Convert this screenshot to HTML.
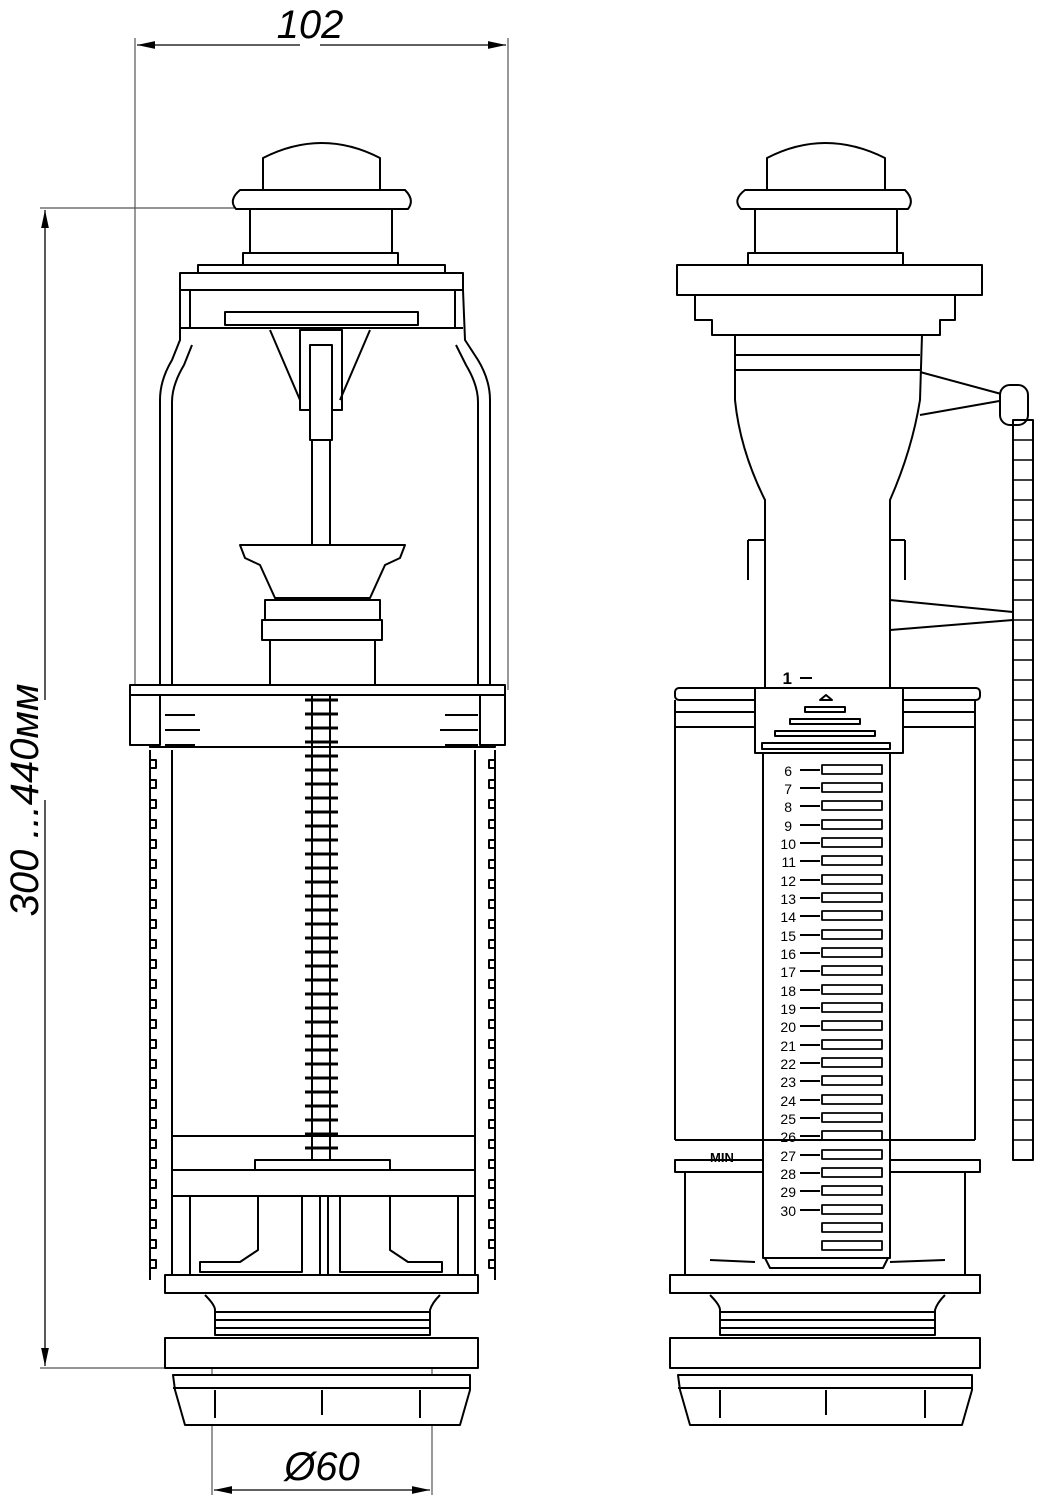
<!DOCTYPE html>
<html><head><meta charset="utf-8"><style>
html,body{margin:0;padding:0;background:#fff}
svg{display:block}
text{font-family:"Liberation Sans",sans-serif;fill:#000}
</style></head><body>
<svg width="1054" height="1500" viewBox="0 0 1054 1500" xmlns="http://www.w3.org/2000/svg">
<defs>
<marker id="ar" markerWidth="14" markerHeight="8" refX="14" refY="4" orient="auto"><path d="M0,1 L14,4 L0,7 Z" fill="#000"/></marker>
</defs>
<g stroke="#555" stroke-width="1.2" fill="none">
<line x1="135" y1="38" x2="135" y2="690"/>
<line x1="508" y1="38" x2="508" y2="690"/>
<line x1="40" y1="208" x2="235" y2="208"/>
<line x1="40" y1="1368" x2="165" y2="1368"/>
<line x1="212" y1="1340" x2="212" y2="1495"/>
<line x1="432" y1="1340" x2="432" y2="1495"/>
</g>
<g stroke="#000" stroke-width="1.3">
<line x1="300" y1="45" x2="137" y2="45" marker-end="url(#ar)"/>
<line x1="320" y1="45" x2="506" y2="45" marker-end="url(#ar)"/>
<line x1="45" y1="700" x2="45" y2="210" marker-end="url(#ar)"/>
<line x1="45" y1="800" x2="45" y2="1366" marker-end="url(#ar)"/>
<line x1="320" y1="1490" x2="214" y2="1490" marker-end="url(#ar)"/>
<line x1="320" y1="1490" x2="430" y2="1490" marker-end="url(#ar)"/>
</g>
<text x="310" y="38" font-size="40" font-style="italic" text-anchor="middle">102</text>
<text x="0" y="0" font-size="40" font-style="italic" text-anchor="middle" transform="translate(38,800) rotate(-90)">300 ...440мм</text>
<text x="322" y="1480" font-size="40" font-style="italic" text-anchor="middle">Ø60</text>

<g stroke="#000" stroke-width="2" fill="#fff" stroke-linejoin="round">
<path d="M263,190 L263,158 Q322,128 380,158 L380,190 Z"/>
<path d="M240,190 L405,190 Q415,200 408,209 L236,209 Q228,200 240,190 Z"/>
<rect x="250" y="209" width="142" height="44"/>
<rect x="243" y="253" width="155" height="12"/>
<rect x="198" y="265" width="247" height="8"/>
<rect x="180" y="273" width="283" height="17"/>
<rect x="190" y="290" width="265" height="38" fill="none"/>
<rect x="225" y="312" width="193" height="13"/>
<line x1="180" y1="328" x2="463" y2="328"/>
<path d="M160,690 L160,400 Q160,380 172,360 L180,340 L180,290" fill="none"/>
<path d="M172,690 L172,402 Q172,385 184,365 L192,345" fill="none"/>
<path d="M490,690 L490,400 Q490,380 478,360 L465,340 L463,290" fill="none"/>
<path d="M478,690 L478,402 Q478,385 466,365 L456,345" fill="none"/>
<path d="M270,330 L300,400 M370,330 L340,400" fill="none"/>
<rect x="300" y="330" width="42" height="80" fill="none"/>
<rect x="310" y="345" width="22" height="95"/>
<rect x="312" y="440" width="18" height="720"/>
<g stroke-width="3">
<path d="M305,560 H338 M305,574 H338 M305,588 H338 M305,602 H338 M305,616 H338 M305,630 H338 M305,644 H338 M305,658 H338 M305,672 H338 M305,686 H338 M305,700 H338 M305,714 H338 M305,728 H338 M305,742 H338 M305,756 H338 M305,770 H338 M305,784 H338 M305,798 H338 M305,812 H338 M305,826 H338 M305,840 H338 M305,854 H338 M305,868 H338 M305,882 H338 M305,896 H338 M305,910 H338 M305,924 H338 M305,938 H338 M305,952 H338 M305,966 H338 M305,980 H338 M305,994 H338 M305,1008 H338 M305,1022 H338 M305,1036 H338 M305,1050 H338 M305,1064 H338 M305,1078 H338 M305,1092 H338 M305,1106 H338 M305,1120 H338 M305,1134 H338 M305,1148 H338"/>
</g>
<path d="M240,545 L405,545 L400,558 L385,565 L370,598 L275,598 L260,565 L245,558 Z"/>
<rect x="265" y="600" width="115" height="20"/>
<rect x="262" y="620" width="120" height="20"/>
<rect x="270" y="640" width="105" height="45"/>
<rect x="130" y="685" width="375" height="10"/>
<rect x="150" y="695" width="345" height="52" fill="none"/>
<rect x="130" y="695" width="30" height="50"/>
<rect x="480" y="695" width="25" height="50"/>
<path d="M165,715 H195 M165,730 H200 M165,745 H195 M445,715 H478 M440,730 H478 M445,745 H478" fill="none"/>
<path d="M150,750 L150,1280 M172,750 L172,1280 M495,750 L495,1280 M475,750 L475,1280" fill="none"/>
<path d="M150,760 h6 v8 h-6 M150,780 h6 v8 h-6 M150,800 h6 v8 h-6 M150,820 h6 v8 h-6 M150,840 h6 v8 h-6 M150,860 h6 v8 h-6 M150,880 h6 v8 h-6 M150,900 h6 v8 h-6 M150,920 h6 v8 h-6 M150,940 h6 v8 h-6 M150,960 h6 v8 h-6 M150,980 h6 v8 h-6 M150,1000 h6 v8 h-6 M150,1020 h6 v8 h-6 M150,1040 h6 v8 h-6 M150,1060 h6 v8 h-6 M150,1080 h6 v8 h-6 M150,1100 h6 v8 h-6 M150,1120 h6 v8 h-6 M150,1140 h6 v8 h-6 M150,1160 h6 v8 h-6 M150,1180 h6 v8 h-6 M150,1200 h6 v8 h-6 M150,1220 h6 v8 h-6 M150,1240 h6 v8 h-6 M150,1260 h6 v8 h-6" fill="none"/>
<path d="M495,760 h-6 v8 h6 M495,780 h-6 v8 h6 M495,800 h-6 v8 h6 M495,820 h-6 v8 h6 M495,840 h-6 v8 h6 M495,860 h-6 v8 h6 M495,880 h-6 v8 h6 M495,900 h-6 v8 h6 M495,920 h-6 v8 h6 M495,940 h-6 v8 h6 M495,960 h-6 v8 h6 M495,980 h-6 v8 h6 M495,1000 h-6 v8 h6 M495,1020 h-6 v8 h6 M495,1040 h-6 v8 h6 M495,1060 h-6 v8 h6 M495,1080 h-6 v8 h6 M495,1100 h-6 v8 h6 M495,1120 h-6 v8 h6 M495,1140 h-6 v8 h6 M495,1160 h-6 v8 h6 M495,1180 h-6 v8 h6 M495,1200 h-6 v8 h6 M495,1220 h-6 v8 h6 M495,1240 h-6 v8 h6 M495,1260 h-6 v8 h6" fill="none"/>
<line x1="172" y1="1136" x2="475" y2="1136"/>
<rect x="172" y="1170" width="303" height="26"/>
<rect x="255" y="1160" width="135" height="10"/>
<path d="M190,1196 V1275 M458,1196 V1275 M320,1196 V1275 M328,1196 V1275" fill="none"/>
<path d="M258,1196 V1250 L240,1262 H200 V1272 H302 V1196 M390,1196 V1250 L408,1262 H442 V1272 H340 V1196" fill="none"/>
<rect x="165" y="1275" width="313" height="18"/>
<path d="M205,1295 Q215,1305 215,1310 V1335 H430 V1310 Q432,1303 440,1295" fill="none"/>
<path d="M215,1312 H430 M215,1320 H430 M215,1328 H430" fill="none"/>
<rect x="165" y="1338" width="313" height="30"/>
<path d="M173,1375 H470 V1390 L460,1425 H185 L175,1390 Z"/>
<path d="M173,1388 H470 M215,1390 V1418 M322,1390 V1415 M420,1390 V1418" fill="none"/>

<!-- RIGHT -->
<path d="M767,190 L767,158 Q825,128 885,158 L885,190 Z"/>
<path d="M745,190 L905,190 Q915,200 908,209 L741,209 Q732,200 745,190 Z"/>
<rect x="755" y="209" width="142" height="44"/>
<rect x="748" y="253" width="155" height="12"/>
<rect x="677" y="265" width="305" height="30"/>
<path d="M695,295 V320 H712 V335 H940 V320 H955 V295" fill="none"/>
<path d="M735,335 L735,400 Q740,450 765,500 L765,690 M922,335 L920,400 Q912,450 890,500 L890,690" fill="none"/>
<path d="M735,355 H920 M735,370 H920" fill="none"/>
<path d="M920,372 L1005,395 M920,415 L1005,400" fill="none"/>
<rect x="1000" y="385" width="28" height="40" rx="10"/>
<rect x="1013" y="420" width="20" height="740" fill="none"/>
<path d="M1013,440 h20 M1013,460 h20 M1013,480 h20 M1013,500 h20 M1013,520 h20 M1013,540 h20 M1013,560 h20 M1013,580 h20 M1013,600 h20 M1013,620 h20 M1013,640 h20 M1013,660 h20 M1013,680 h20 M1013,700 h20 M1013,720 h20 M1013,740 h20 M1013,760 h20 M1013,780 h20 M1013,800 h20 M1013,820 h20 M1013,840 h20 M1013,860 h20 M1013,880 h20 M1013,900 h20 M1013,920 h20 M1013,940 h20 M1013,960 h20 M1013,980 h20 M1013,1000 h20 M1013,1020 h20 M1013,1040 h20 M1013,1060 h20 M1013,1080 h20 M1013,1100 h20 M1013,1120 h20 M1013,1140 h20" fill="none" stroke-width="1.5"/>
<path d="M890,600 L1013,612 M890,630 L1013,620" fill="none"/>
<path d="M748,540 H765 M890,540 H905 M748,540 V580 M905,540 V580" fill="none"/>
<rect x="675" y="688" width="305" height="12" rx="4"/>
<path d="M675,700 V1140 M975,700 V1140 M675,712 H755 M903,712 H975 M675,727 H755 M903,727 H975" fill="none"/>
<rect x="755" y="688" width="148" height="65"/>
<path d="M820,700 L826,695 L832,700 Z" fill="#fff"/>
<rect x="805" y="707" width="40" height="5"/>
<rect x="790" y="719" width="70" height="5"/>
<rect x="775" y="731" width="100" height="5"/>
<rect x="762" y="743" width="128" height="6"/>
<rect x="763" y="753" width="127" height="505" fill="#fff"/>
<path d="M765,1258 L770,1268 H883 L888,1258" fill="none"/>
<g stroke-width="1.8">
<rect x="822" y="765" width="60" height="9"/><rect x="822" y="783" width="60" height="9"/><rect x="822" y="801" width="60" height="9"/><rect x="822" y="820" width="60" height="9"/><rect x="822" y="838" width="60" height="9"/><rect x="822" y="856" width="60" height="9"/><rect x="822" y="875" width="60" height="9"/><rect x="822" y="893" width="60" height="9"/><rect x="822" y="911" width="60" height="9"/><rect x="822" y="930" width="60" height="9"/><rect x="822" y="948" width="60" height="9"/><rect x="822" y="966" width="60" height="9"/><rect x="822" y="985" width="60" height="9"/><rect x="822" y="1003" width="60" height="9"/><rect x="822" y="1021" width="60" height="9"/><rect x="822" y="1040" width="60" height="9"/><rect x="822" y="1058" width="60" height="9"/><rect x="822" y="1076" width="60" height="9"/><rect x="822" y="1095" width="60" height="9"/><rect x="822" y="1113" width="60" height="9"/><rect x="822" y="1131" width="60" height="9"/><rect x="822" y="1150" width="60" height="9"/><rect x="822" y="1168" width="60" height="9"/><rect x="822" y="1186" width="60" height="9"/><rect x="822" y="1205" width="60" height="9"/><rect x="822" y="1223" width="60" height="9"/><rect x="822" y="1241" width="60" height="9"/>
</g>
<path d="M675,1140 H975" fill="none"/>
<rect x="675" y="1160" width="88" height="12" fill="none"/>
<rect x="890" y="1160" width="90" height="12" fill="none"/>
<path d="M685,1172 V1275 M965,1172 V1275 M710,1260 L755,1262 M890,1262 L945,1260" fill="none"/>
<rect x="670" y="1275" width="310" height="18"/>
<path d="M710,1295 Q720,1305 720,1310 V1335 H935 V1310 Q937,1303 945,1295" fill="none"/>
<path d="M720,1312 H935 M720,1320 H935 M720,1328 H935" fill="none"/>
<rect x="670" y="1338" width="310" height="30"/>
<path d="M678,1375 H972 V1390 L962,1425 H690 L680,1390 Z"/>
<path d="M678,1388 H972 M720,1390 V1418 M826,1390 V1415 M925,1390 V1418" fill="none"/>
</g>
<text x="792" y="684" font-size="17" font-weight="bold" text-anchor="end">1</text>
<line x1="800" y1="678" x2="812" y2="678" stroke="#000" stroke-width="2"/>
<g font-size="14" text-anchor="end">
<text x="792" y="776">6</text><text x="792" y="794">7</text><text x="792" y="812">8</text><text x="792" y="831">9</text>
<text x="796" y="849">10</text><text x="796" y="867">11</text><text x="796" y="886">12</text><text x="796" y="904">13</text>
<text x="796" y="922">14</text><text x="796" y="941">15</text><text x="796" y="959">16</text><text x="796" y="977">17</text>
<text x="796" y="996">18</text><text x="796" y="1014">19</text><text x="796" y="1032">20</text><text x="796" y="1051">21</text>
<text x="796" y="1069">22</text><text x="796" y="1087">23</text><text x="796" y="1106">24</text><text x="796" y="1124">25</text>
<text x="796" y="1142">26</text><text x="796" y="1161">27</text><text x="796" y="1179">28</text><text x="796" y="1197">29</text>
<text x="796" y="1216">30</text>
</g>
<g stroke="#000" stroke-width="2">
<path d="M800,770 h20 M800,788 h20 M800,806 h20 M800,825 h20 M800,843 h20 M800,861 h20 M800,880 h20 M800,898 h20 M800,916 h20 M800,935 h20 M800,953 h20 M800,971 h20 M800,990 h20 M800,1008 h20 M800,1026 h20 M800,1045 h20 M800,1063 h20 M800,1081 h20 M800,1100 h20 M800,1118 h20 M800,1136 h20 M800,1155 h20 M800,1173 h20 M800,1191 h20 M800,1210 h20"/>
</g>
<text x="710" y="1162" font-size="13" font-weight="bold">MIN</text>
</svg>
</body></html>
